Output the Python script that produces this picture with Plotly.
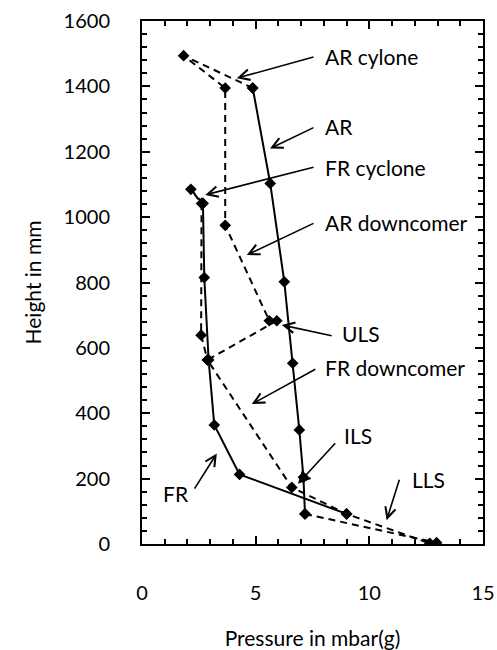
import plotly.graph_objects as go

# ---- data (pressure in mbar(g), height in mm) ----
ar_p = [4.87, 5.64, 6.26, 6.63, 6.92, 7.10, 7.17]
ar_h = [1395, 1103, 802, 553, 349, 204, 92]

fr_p = [2.68, 2.74, 2.93, 3.18, 4.29, 9.0]
fr_h = [1042, 815, 563, 364, 213, 92]

ar_cyc_p = [4.87, 1.83, 3.66, 3.66, 5.60]
ar_cyc_h = [1395, 1494, 1395, 975, 683]

fr_cyc_p = [2.68, 2.15, 2.62, 2.60, 2.88]
fr_cyc_h = [1042, 1085, 1042, 639, 563]

loop_p = [5.93, 2.88, 6.59, 9.0, 12.66]
loop_h = [683, 563, 173, 92, 2]

lls_p = [7.17, 12.96]
lls_h = [92, 4]

# labels: text, arrow tip (x, y), arrow tail (x, y), text anchor position (x, y), anchor
labels = [
    ("AR cylone", (4.17, 1425), (7.61, 1491), (7.96, 1490), "left"),
    ("AR", (5.63, 1210), (7.61, 1276), (7.96, 1276), "left"),
    ("FR cyclone", (2.78, 1068), (7.61, 1154), (7.96, 1153), "left"),
    ("AR downcomer", (4.61, 884), (7.61, 983), (7.96, 985), "left"),
    ("ULS", (6.15, 670), (8.41, 636), (8.71, 645), "left"),
    ("FR downcomer", (4.83, 428), (7.69, 537), (7.96, 541), "left"),
    ("ILS", (6.86, 184), (8.56, 313), (8.80, 333), "left"),
    ("LLS", (10.76, 73), (11.34, 201), (11.78, 196), "left"),
    ("FR", (3.29, 277), (2.27, 165), (2.16, 156), "right"),
]

FONT = "Lato, 'Open Sans', sans-serif"

fig = go.Figure()

def add(xs, ys, dash):
    fig.add_trace(go.Scatter(
        x=xs, y=ys, mode="lines+markers",
        line=dict(color="black", width=2, dash=dash),
        marker=dict(symbol="diamond", size=9, color="black"),
        showlegend=False, hoverinfo="x+y"))

add(ar_cyc_p, ar_cyc_h, "7px,5px")
add(fr_cyc_p, fr_cyc_h, "7px,5px")
add(loop_p, loop_h, "7px,5px")
add(lls_p, lls_h, "7px,5px")
add(ar_p, ar_h, "solid")
add(fr_p, fr_h, "solid")

for text, tip, tail, tpos, anch in labels:
    fig.add_annotation(x=tip[0], y=tip[1], ax=tail[0], ay=tail[1],
                       xref="x", yref="y", axref="x", ayref="y",
                       text="", showarrow=True, arrowhead=5, arrowsize=1.3,
                       arrowwidth=1.6, arrowcolor="black", standoff=0, startstandoff=0)
    fig.add_annotation(x=tpos[0], y=tpos[1], xref="x", yref="y", text=text,
                       showarrow=False, xanchor=anch, yanchor="middle",
                       font=dict(family=FONT, size=21, color="black"))

axis_common = dict(
    showgrid=False, zeroline=False, showline=True, linecolor="black", linewidth=2,
    mirror="ticks", ticks="inside", ticklen=8, tickwidth=2, tickcolor="black",
    tickfont=dict(family=FONT, size=20, color="black"),
)

fig.update_xaxes(range=[0, 15], dtick=5, tick0=0,
                 minor=dict(ticks="inside", ticklen=5, tickwidth=2, dtick=1, tickcolor="black"),
                 ticklabelstandoff=30,
                 title=dict(text="Pressure in mbar(g)", standoff=30,
                            font=dict(family=FONT, size=21, color="black")),
                 **axis_common)
fig.update_yaxes(range=[0, 1600], dtick=200, tick0=0,
                 minor=dict(ticks="inside", ticklen=5, tickwidth=2, dtick=40, tickcolor="black"),
                 ticklabelstandoff=26,
                 title=dict(text="Height in mm", standoff=16,
                            font=dict(family=FONT, size=21, color="black")),
                 **axis_common)

fig.update_layout(width=497, height=650,
                  margin=dict(l=142, r=14, t=21, b=106, autoexpand=False),
                  plot_bgcolor="white", paper_bgcolor="white",
                  font=dict(family=FONT, color="black"))

fig.write_html("out.html", config={"displayModeBar": False},
               post_script="document.body.style.margin='0px';document.body.style.overflow='hidden';")
